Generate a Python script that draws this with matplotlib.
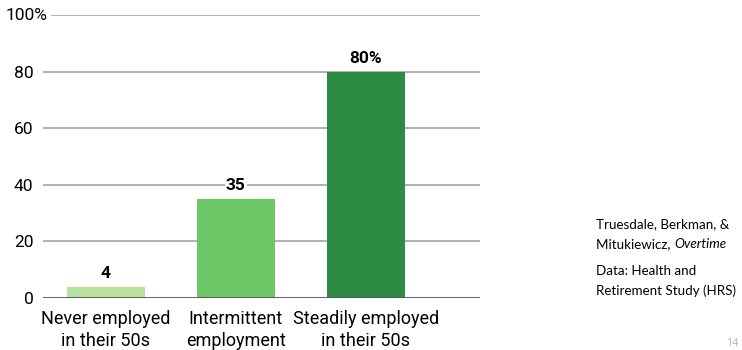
import matplotlib
matplotlib.use('Agg')
import matplotlib.pyplot as plt

categories = ['Never employed\nin their 50s', 'Intermittent\nemployment', 'Steadily employed\nin their 50s']
values = [4, 35, 80]
value_labels = ['4', '35', '80%']
colors = ['#b8e2a0', '#6cc866', '#2e8b43']
yticks = [0, 20, 40, 60, 80, 100]
ytick_labels = ['0', '20', '40', '60', '80', '100%']

plt.rcParams['font.family'] = ['Roboto', 'DejaVu Sans']

fig = plt.figure(figsize=(7.42, 3.5), dpi=100)
ax = fig.add_axes([43 / 742, 1 - 298 / 350, (480 - 43) / 742, (298 - 15) / 350])

x = list(range(len(values)))
for yv in yticks[1:-1]:
    ax.axhline(yv, color='#aaaaaa', linewidth=1.3, zorder=0)
# top line starts a bit to the right, after the "100%" label
ax.axhline(yticks[-1], xmin=9 / 437, color='#aaaaaa', linewidth=1.3, zorder=0)
ax.axhline(0, color='#555555', linewidth=1.3, zorder=3)

ax.bar(x, values, width=0.6, color=colors, zorder=2)
for xi, v, lab in zip(x, values, value_labels):
    ax.text(xi, v + 2, lab, ha='center', va='bottom', fontsize=12.5, fontweight='bold',
            bbox=dict(facecolor='white', edgecolor='none', pad=1), zorder=4)

ax.set_xlim(-0.485, 2.88)
ax.set_ylim(0, 100)
ax.set_yticks(yticks)
ax.set_yticklabels(ytick_labels[:-1] + [''], fontsize=12.5)
ax.text(4 / 437, yticks[-1], ytick_labels[-1], transform=ax.get_yaxis_transform(),
        ha='right', va='center', fontsize=12.5, clip_on=False)
ax.set_xticks(x)
ax.set_xticklabels(categories, fontsize=13, linespacing=1.25)
ax.tick_params(axis='y', length=0, pad=7)
ax.tick_params(axis='x', length=0, pad=9)
for s in ax.spines.values():
    s.set_visible(False)

# source note at right
note_x = 596 / 742
fs = 9.6
fig.text(note_x, 1 - 224 / 350, 'Truesdale, Berkman, &', fontsize=fs, family='Lato', va='center')
t = fig.text(note_x, 1 - 244 / 350, 'Mitukiewicz, ', fontsize=fs, family='Lato', va='center')
fig.canvas.draw()
bb = t.get_window_extent()
fig.text(bb.x1 / fig.bbox.width, 1 - 244 / 350, 'Overtime', fontsize=fs, family='Lato',
         style='italic', va='center')
fig.text(note_x, 1 - 271 / 350, 'Data: Health and', fontsize=fs, family='Lato', va='center')
fig.text(note_x, 1 - 291 / 350, 'Retirement Study (HRS)', fontsize=fs, family='Lato', va='center')
fig.text(726 / 742, 2 / 350, '14', fontsize=8, color='#bbbbbb', va='bottom')

plt.savefig('out.png', dpi=100)
